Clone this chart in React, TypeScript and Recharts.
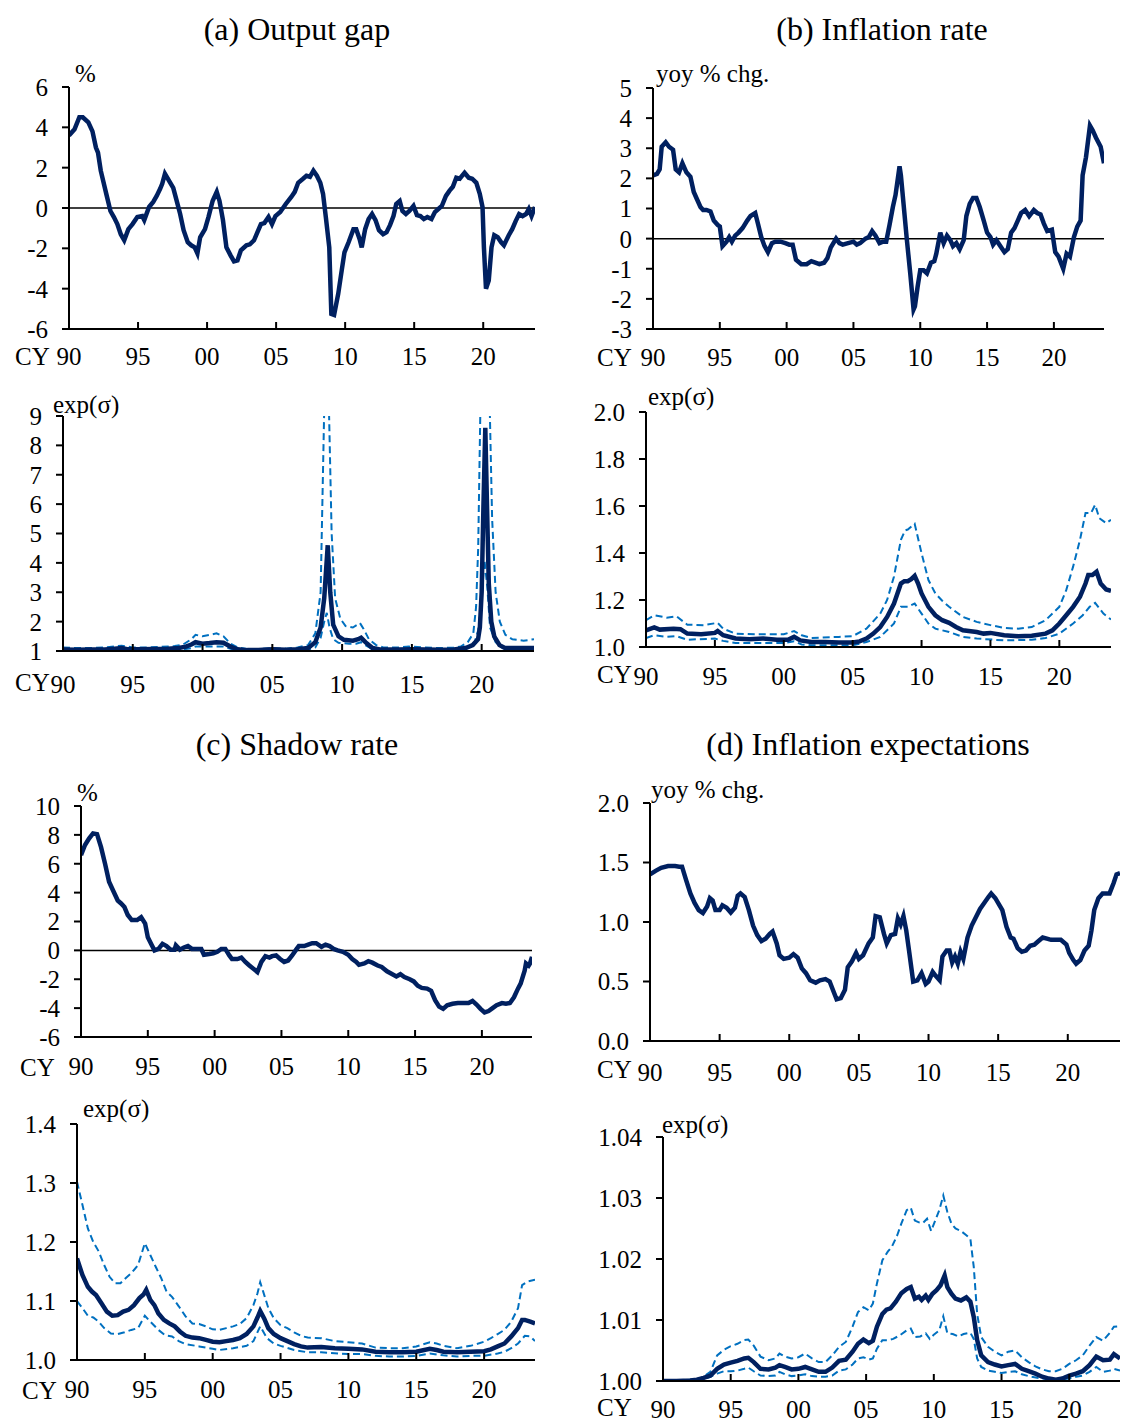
import { LineChart, Line, XAxis, YAxis, ReferenceLine } from 'recharts';

const FONT = '"Liberation Serif", "Times New Roman", serif';
const NAVY = '#002060';
const BLUE = '#0070C0';
const TICK_FS = 25;

const X_DOMAIN = [1990, 2023.75];
const X_TICKS = [1990, 1995, 2000, 2005, 2010, 2015, 2020];

// (a) output gap, %
const outputGap = [
  [1990.0, 3.6], [1990.4, 3.9], [1990.75, 4.5], [1991.0, 4.5], [1991.4, 4.25], [1991.7, 3.8], [1991.95, 3.0],
  [1992.1, 2.75], [1992.3, 1.85], [1992.7, 0.7], [1993.0, -0.15], [1993.25, -0.45], [1993.5, -0.8], [1993.75, -1.3],
  [1994.0, -1.6], [1994.3, -1.05], [1994.6, -0.8], [1994.95, -0.45], [1995.3, -0.4], [1995.45, -0.6], [1995.8, 0.05],
  [1996.1, 0.3], [1996.35, 0.6], [1996.6, 0.95], [1996.75, 1.2], [1996.95, 1.7], [1997.25, 1.35], [1997.55, 1.0],
  [1997.8, 0.35], [1998.05, -0.3], [1998.3, -1.1], [1998.6, -1.7], [1998.85, -1.85], [1999.1, -1.95], [1999.3, -2.25],
  [1999.5, -1.45], [1999.85, -1.05], [2000.1, -0.45], [2000.4, 0.35], [2000.7, 0.8], [2000.9, 0.35], [2001.15, -0.6],
  [2001.4, -1.95], [2001.7, -2.35], [2001.95, -2.65], [2002.2, -2.6], [2002.45, -2.1], [2002.85, -1.85], [2003.1, -1.8],
  [2003.4, -1.6], [2003.65, -1.2], [2003.9, -0.8], [2004.15, -0.75], [2004.45, -0.45], [2004.7, -0.8], [2004.95, -0.4],
  [2005.3, -0.2], [2005.7, 0.2], [2006.1, 0.55], [2006.35, 0.8], [2006.6, 1.25], [2006.95, 1.45], [2007.2, 1.6],
  [2007.45, 1.55], [2007.7, 1.85], [2007.95, 1.6], [2008.2, 1.25], [2008.4, 0.7], [2008.6, -0.45], [2008.85, -1.95],
  [2009.0, -5.25], [2009.2, -5.3], [2009.5, -4.25], [2009.75, -3.1], [2009.95, -2.2], [2010.25, -1.7], [2010.6, -1.05],
  [2010.8, -1.05], [2011.05, -1.55], [2011.2, -1.95], [2011.45, -1.05], [2011.7, -0.55], [2011.95, -0.3], [2012.2, -0.6],
  [2012.45, -1.1], [2012.75, -1.3], [2013.0, -1.2], [2013.25, -0.85], [2013.5, -0.4], [2013.7, 0.2], [2013.95, 0.35],
  [2014.15, -0.15], [2014.4, -0.3], [2014.65, -0.15], [2014.95, 0.1], [2015.2, -0.35], [2015.45, -0.4], [2015.7, -0.55],
  [2015.95, -0.45], [2016.25, -0.55], [2016.5, -0.2], [2016.75, -0.05], [2017.0, 0.1], [2017.3, 0.6], [2017.55, 0.85],
  [2017.8, 1.05], [2018.05, 1.5], [2018.3, 1.45], [2018.65, 1.75], [2018.95, 1.5], [2019.2, 1.45], [2019.5, 1.25],
  [2019.75, 0.7], [2019.95, 0.05], [2020.05, -1.95], [2020.2, -4.0], [2020.4, -3.6], [2020.6, -1.95], [2020.8, -1.35],
  [2021.05, -1.45], [2021.3, -1.7], [2021.5, -1.85], [2021.85, -1.35], [2022.1, -1.05], [2022.35, -0.65], [2022.6, -0.3],
  [2022.85, -0.4], [2023.1, -0.3], [2023.3, -0.05], [2023.5, -0.4], [2023.75, 0.05],
];

// (a) exp(sigma): median, upper, lower
const gapSigMed = [
  [1990, 1.05], [1991, 1.04], [1992, 1.05], [1993, 1.05], [1993.7, 1.08], [1994.2, 1.1], [1994.6, 1.06], [1995.5, 1.06],
  [1996.5, 1.07], [1997.5, 1.08], [1998.3, 1.1], [1998.8, 1.15], [1999.2, 1.22], [1999.5, 1.3], [2000, 1.25], [2000.5, 1.27],
  [2001, 1.3], [2001.5, 1.28], [2002, 1.15], [2002.5, 1.06], [2003.2, 1.03], [2004, 1.03], [2005, 1.06], [2006, 1.04],
  [2006.8, 1.06], [2007.56, 1.1], [2008.08, 1.3], [2008.46, 1.8], [2008.72, 2.8], [2008.97, 4.6], [2009.15, 3.0],
  [2009.36, 1.9], [2009.74, 1.5], [2010.13, 1.38], [2010.77, 1.35], [2011.15, 1.4], [2011.36, 1.45], [2011.67, 1.3],
  [2012.18, 1.1], [2012.7, 1.05], [2014, 1.05], [2015, 1.06], [2016, 1.05], [2017, 1.04], [2018, 1.05], [2018.85, 1.1],
  [2019.36, 1.2], [2019.74, 1.4], [2019.87, 1.8], [2020.0, 3.0], [2020.13, 6.0], [2020.26, 8.6], [2020.38, 6.0],
  [2020.51, 3.3], [2020.69, 2.0], [2020.9, 1.5], [2021.28, 1.2], [2021.67, 1.1], [2023.75, 1.1],
];
const gapSigHi = [
  [1990, 1.12], [1991, 1.1], [1992, 1.1], [1993, 1.12], [1994.2, 1.18], [1995, 1.12], [1996, 1.12], [1997, 1.14],
  [1998, 1.17], [1998.6, 1.22], [1999.2, 1.4], [1999.5, 1.55], [2000, 1.5], [2000.5, 1.55], [2001, 1.6], [2001.5, 1.5],
  [2002, 1.25], [2002.5, 1.12], [2003.2, 1.07], [2004, 1.07], [2005, 1.1], [2006, 1.08], [2006.8, 1.12], [2007.56, 1.2],
  [2008.08, 1.6], [2008.46, 3.0], [2008.75, 10], [2009.0, 10.5], [2009.25, 5], [2009.5, 2.8], [2009.87, 2.1],
  [2010.25, 1.85], [2010.77, 1.8], [2011.28, 1.95], [2011.54, 1.75], [2011.92, 1.4], [2012.44, 1.2], [2012.95, 1.12],
  [2014, 1.12], [2014.8, 1.15], [2016, 1.12], [2017, 1.1], [2018, 1.12], [2018.5, 1.15], [2019, 1.3], [2019.4, 1.6],
  [2019.6, 2.5], [2019.75, 4.5], [2020, 12], [2020.25, 14], [2020.5, 11], [2020.75, 5.5], [2021, 3.0], [2021.3, 2.0],
  [2021.7, 1.55], [2022.2, 1.4], [2023, 1.35], [2023.75, 1.4],
];
const gapSigLo = [
  [1990, 1.02], [1992, 1.02], [1994.2, 1.05], [1995, 1.02], [1997, 1.03], [1998.5, 1.05], [1999.2, 1.1], [1999.5, 1.15],
  [2000.5, 1.15], [2001.5, 1.15], [2002.2, 1.05], [2003, 1.01], [2007, 1.02], [2007.56, 1.05], [2008.08, 1.12],
  [2008.46, 1.45], [2008.72, 2.0], [2008.9, 2.3], [2009.1, 1.8], [2009.36, 1.4], [2009.74, 1.28], [2010.5, 1.25],
  [2011, 1.25], [2011.36, 1.3], [2011.67, 1.2], [2012.2, 1.05], [2013, 1.02], [2018.5, 1.03], [2019, 1.1], [2019.5, 1.3],
  [2019.75, 1.7], [2020, 2.8], [2020.2, 4.1], [2020.4, 3.2], [2020.6, 1.8], [2021, 1.3], [2021.5, 1.1], [2022, 1.05],
  [2023.75, 1.05],
];

// (b) inflation rate, yoy % chg.
const inflation = [
  [1990.0, 2.1], [1990.3, 2.15], [1990.5, 2.3], [1990.65, 3.05], [1990.95, 3.2], [1991.2, 3.05], [1991.5, 2.95],
  [1991.7, 2.3], [1991.95, 2.2], [1992.2, 2.5], [1992.5, 2.2], [1992.8, 2.05], [1993.05, 1.55], [1993.3, 1.3],
  [1993.55, 1.05], [1993.75, 0.95], [1994.0, 0.95], [1994.3, 0.9], [1994.55, 0.6], [1994.85, 0.45], [1995.0, 0.4],
  [1995.2, -0.25], [1995.5, -0.1], [1995.7, 0.05], [1995.9, -0.1], [1996.15, 0.1], [1996.4, 0.2], [1996.7, 0.35],
  [1997.05, 0.6], [1997.3, 0.75], [1997.65, 0.85], [1997.85, 0.5], [1998.1, 0.05], [1998.35, -0.25], [1998.6, -0.45],
  [1998.9, -0.15], [1999.15, -0.1], [1999.55, -0.1], [1999.9, -0.15], [2000.2, -0.2], [2000.45, -0.2], [2000.7, -0.7],
  [2001.1, -0.85], [2001.5, -0.85], [2001.85, -0.75], [2002.15, -0.8], [2002.45, -0.85], [2002.8, -0.8], [2003.05, -0.65],
  [2003.3, -0.3], [2003.7, 0.0], [2003.95, -0.15], [2004.2, -0.2], [2004.6, -0.15], [2005.0, -0.1], [2005.25, -0.2],
  [2005.5, -0.15], [2005.9, 0.0], [2006.15, 0.05], [2006.4, 0.25], [2006.65, 0.1], [2006.95, -0.15], [2007.2, -0.1],
  [2007.45, -0.1], [2007.7, 0.45], [2007.95, 1.05], [2008.15, 1.45], [2008.45, 2.4], [2008.55, 2.1], [2008.75, 1.15],
  [2009.0, -0.05], [2009.25, -1.15], [2009.5, -2.35], [2009.6, -2.25], [2009.8, -1.6], [2010.0, -1.05], [2010.25, -1.05],
  [2010.5, -1.15], [2010.8, -0.8], [2011.05, -0.75], [2011.2, -0.5], [2011.5, 0.2], [2011.75, -0.15], [2012.0, 0.1],
  [2012.25, -0.05], [2012.45, -0.25], [2012.7, -0.15], [2012.95, -0.35], [2013.25, -0.05], [2013.45, 0.75], [2013.7, 1.15],
  [2013.95, 1.35], [2014.2, 1.35], [2014.45, 1.05], [2014.75, 0.6], [2015.0, 0.2], [2015.25, 0.05], [2015.45, -0.2],
  [2015.7, -0.05], [2016.0, -0.25], [2016.3, -0.45], [2016.55, -0.35], [2016.8, 0.2], [2017.05, 0.35], [2017.3, 0.6],
  [2017.55, 0.85], [2017.85, 0.95], [2018.15, 0.75], [2018.5, 0.95], [2018.75, 0.85], [2019.0, 0.8], [2019.25, 0.5],
  [2019.5, 0.25], [2019.85, 0.3], [2020.1, -0.45], [2020.35, -0.6], [2020.7, -1.0], [2020.95, -0.5], [2021.2, -0.6],
  [2021.5, 0.05], [2021.75, 0.4], [2022.0, 0.6], [2022.15, 2.1], [2022.4, 2.7], [2022.7, 3.75], [2022.9, 3.6],
  [2023.15, 3.35], [2023.5, 3.05], [2023.75, 2.5],
];

// (b) exp(sigma)
const inflSigMed = [
  [1990, 1.071], [1990.6, 1.083], [1991, 1.074], [1992, 1.078], [1992.5, 1.076], [1993, 1.057], [1994, 1.054], [1995, 1.06],
  [1995.2, 1.068], [1995.6, 1.05], [1996.5, 1.036], [1997.5, 1.033], [1998.5, 1.036], [1999.5, 1.031], [2000.3, 1.031],
  [2000.75, 1.043], [2001.2, 1.028], [2002, 1.021], [2003, 1.021], [2004, 1.019], [2005, 1.019], [2005.5, 1.024],
  [2006, 1.036], [2006.5, 1.057], [2007, 1.085], [2007.5, 1.128], [2008, 1.185], [2008.5, 1.27], [2008.75, 1.28],
  [2009, 1.28], [2009.25, 1.289], [2009.5, 1.303], [2009.75, 1.27], [2010, 1.228], [2010.5, 1.171], [2011, 1.135],
  [2011.5, 1.114], [2012, 1.103], [2012.5, 1.085], [2013, 1.071], [2014, 1.064], [2014.5, 1.057], [2015, 1.06],
  [2016, 1.05], [2017, 1.046], [2018, 1.048], [2019, 1.057], [2019.5, 1.071], [2020, 1.1], [2020.5, 1.135], [2021, 1.171],
  [2021.5, 1.214], [2021.9, 1.27], [2022.1, 1.306], [2022.4, 1.306], [2022.7, 1.32], [2023, 1.27], [2023.4, 1.245],
  [2023.75, 1.239],
];
const inflSigHi = [
  [1990, 1.114], [1990.6, 1.135], [1991.5, 1.125], [1992.2, 1.131], [1993, 1.095], [1994.2, 1.093], [1995.2, 1.103],
  [1995.6, 1.078], [1996.5, 1.057], [1998, 1.054], [2000, 1.054], [2000.75, 1.068], [2001.3, 1.05], [2002, 1.038],
  [2004, 1.043], [2005, 1.046], [2006, 1.078], [2007, 1.142], [2007.5, 1.2], [2008, 1.3], [2008.5, 1.456], [2008.8, 1.496],
  [2009, 1.5], [2009.5, 1.524], [2010, 1.399], [2010.5, 1.285], [2011, 1.228], [2011.5, 1.197], [2012, 1.171],
  [2013, 1.128], [2014, 1.107], [2015, 1.093], [2016, 1.081], [2017, 1.078], [2018, 1.085], [2019, 1.114], [2020, 1.171],
  [2020.5, 1.242], [2021, 1.342], [2021.5, 1.456], [2021.9, 1.57], [2022.3, 1.57], [2022.6, 1.605], [2022.9, 1.548],
  [2023.4, 1.527], [2023.75, 1.541],
];
const inflSigLo = [
  [1990, 1.038], [1990.6, 1.05], [1991.5, 1.043], [1992.2, 1.046], [1993, 1.031], [1995, 1.036], [1995.6, 1.026],
  [1996.5, 1.017], [2000, 1.017], [2000.75, 1.024], [2001.3, 1.011], [2002, 1.007], [2005, 1.007], [2006, 1.021],
  [2007, 1.043], [2008, 1.1], [2008.5, 1.171], [2009, 1.171], [2009.5, 1.185], [2010, 1.142], [2010.5, 1.1], [2011, 1.078],
  [2012, 1.064], [2013, 1.043], [2014, 1.036], [2016, 1.028], [2018, 1.031], [2019, 1.038], [2020, 1.057], [2021, 1.1],
  [2021.7, 1.135], [2022.2, 1.171], [2022.6, 1.188], [2023.2, 1.142], [2023.75, 1.117],
];

// (c) shadow rate, %
const shadowRate = [
  [1990.0, 6.6], [1990.3, 7.3], [1990.6, 7.75], [1990.9, 8.1], [1991.2, 8.05], [1991.5, 7.15], [1991.8, 6.0], [1992.1, 4.75],
  [1992.4, 4.15], [1992.75, 3.45], [1993.0, 3.25], [1993.25, 3.0], [1993.5, 2.45], [1993.8, 2.1], [1994.2, 2.1],
  [1994.5, 2.3], [1994.8, 1.85], [1995.0, 0.9], [1995.3, 0.35], [1995.5, 0.0], [1995.8, 0.1], [1996.1, 0.45], [1996.4, 0.3],
  [1996.7, 0.05], [1997.0, 0.05], [1997.1, 0.35], [1997.4, 0.05], [1997.7, 0.2], [1998.0, 0.3], [1998.3, 0.1],
  [1998.7, 0.1], [1999.0, 0.1], [1999.2, -0.3], [1999.6, -0.25], [1999.9, -0.2], [2000.2, -0.1], [2000.5, 0.1],
  [2000.8, 0.1], [2001.1, -0.35], [2001.3, -0.6], [2001.7, -0.6], [2002.0, -0.5], [2002.3, -0.8], [2002.6, -1.05],
  [2003.0, -1.35], [2003.2, -1.5], [2003.5, -0.8], [2003.8, -0.4], [2004.1, -0.5], [2004.3, -0.4], [2004.6, -0.35],
  [2004.9, -0.6], [2005.2, -0.8], [2005.5, -0.7], [2005.8, -0.35], [2006.1, 0.05], [2006.3, 0.3], [2006.7, 0.3],
  [2007.0, 0.4], [2007.3, 0.5], [2007.6, 0.5], [2008.0, 0.25], [2008.3, 0.4], [2008.6, 0.3], [2008.9, 0.1], [2009.2, 0.0],
  [2009.6, -0.1], [2010.0, -0.3], [2010.3, -0.6], [2010.6, -0.8], [2010.8, -1.0], [2011.2, -0.9], [2011.5, -0.75],
  [2011.8, -0.85], [2012.2, -1.05], [2012.5, -1.15], [2012.9, -1.45], [2013.2, -1.6], [2013.6, -1.8], [2013.9, -1.65],
  [2014.2, -1.85], [2014.6, -2.0], [2014.9, -2.15], [2015.2, -2.45], [2015.5, -2.6], [2015.9, -2.65], [2016.2, -2.8],
  [2016.5, -3.45], [2016.8, -3.9], [2017.1, -4.05], [2017.4, -3.8], [2017.8, -3.7], [2018.2, -3.65], [2018.6, -3.65],
  [2019.0, -3.65], [2019.3, -3.5], [2019.6, -3.75], [2019.9, -4.05], [2020.2, -4.3], [2020.5, -4.2], [2020.8, -4.0],
  [2021.1, -3.8], [2021.5, -3.65], [2021.8, -3.7], [2022.1, -3.65], [2022.4, -3.25], [2022.7, -2.65], [2022.9, -2.3],
  [2023.2, -1.4], [2023.3, -0.9], [2023.5, -1.05], [2023.6, -0.9], [2023.75, -0.45],
];

// (c) exp(sigma)
const shadowSigMed = [
  [1990.0, 1.172], [1990.4, 1.144], [1990.8, 1.124], [1991.1, 1.116], [1991.4, 1.11], [1991.8, 1.096], [1992.2, 1.082],
  [1992.6, 1.075], [1993.0, 1.076], [1993.4, 1.082], [1993.8, 1.085], [1994.2, 1.093], [1994.6, 1.105], [1994.9, 1.111],
  [1995.1, 1.119], [1995.4, 1.102], [1995.7, 1.093], [1996.0, 1.079], [1996.4, 1.068], [1996.8, 1.062], [1997.2, 1.057],
  [1997.6, 1.048], [1998.0, 1.041], [1998.5, 1.038], [1999.0, 1.037], [1999.5, 1.034], [2000.0, 1.031], [2000.5, 1.03],
  [2001.0, 1.032], [2001.5, 1.034], [2002.0, 1.037], [2002.5, 1.044], [2003.0, 1.057], [2003.3, 1.072], [2003.5, 1.083],
  [2003.8, 1.07], [2004.1, 1.054], [2004.5, 1.044], [2005.0, 1.037], [2005.5, 1.032], [2006.0, 1.027], [2006.5, 1.023],
  [2007.0, 1.021], [2008.0, 1.022], [2009.0, 1.02], [2010.0, 1.019], [2011.0, 1.018], [2012.0, 1.014], [2013.0, 1.013],
  [2014.0, 1.013], [2015.0, 1.014], [2016.0, 1.019], [2016.5, 1.017], [2017.0, 1.014], [2018.0, 1.013], [2019.0, 1.014],
  [2020.0, 1.015], [2020.5, 1.018], [2021.0, 1.023], [2021.5, 1.028], [2022.0, 1.04], [2022.5, 1.054], [2022.8, 1.068],
  [2023.0, 1.068], [2023.4, 1.065], [2023.75, 1.062],
];
const shadowSigHi = [
  [1990.0, 1.302], [1990.4, 1.263], [1990.8, 1.223], [1991.2, 1.2], [1991.6, 1.184], [1992.0, 1.161], [1992.4, 1.141],
  [1992.8, 1.13], [1993.2, 1.13], [1993.6, 1.139], [1994.0, 1.147], [1994.5, 1.161], [1995.0, 1.198], [1995.4, 1.178],
  [1995.8, 1.158], [1996.2, 1.139], [1996.6, 1.116], [1997.0, 1.107], [1997.5, 1.091], [1998.0, 1.074], [1998.5, 1.062],
  [1999.0, 1.061], [1999.5, 1.057], [2000.0, 1.052], [2000.5, 1.051], [2001.0, 1.054], [2001.5, 1.057], [2002.0, 1.061],
  [2002.5, 1.071], [2003.0, 1.093], [2003.3, 1.113], [2003.5, 1.132], [2003.8, 1.11], [2004.1, 1.088], [2004.5, 1.071],
  [2005.0, 1.059], [2005.5, 1.054], [2006.0, 1.047], [2006.5, 1.041], [2007.0, 1.038], [2008.0, 1.037], [2009.0, 1.032],
  [2010.0, 1.03], [2011.0, 1.028], [2012.0, 1.021], [2013.0, 1.02], [2014.0, 1.02], [2015.0, 1.023], [2016.0, 1.03],
  [2016.5, 1.028], [2017.0, 1.024], [2018.0, 1.02], [2019.0, 1.024], [2020.0, 1.031], [2020.5, 1.037], [2021.0, 1.044],
  [2021.5, 1.051], [2022.0, 1.065], [2022.5, 1.088], [2022.8, 1.127], [2023.2, 1.133], [2023.75, 1.136],
];
const shadowSigLo = [
  [1990.0, 1.1], [1990.4, 1.088], [1990.8, 1.075], [1991.2, 1.072], [1991.6, 1.065], [1992.0, 1.054], [1992.5, 1.045],
  [1993.0, 1.044], [1993.5, 1.047], [1994.0, 1.051], [1994.5, 1.054], [1995.0, 1.075], [1995.4, 1.065], [1996.0, 1.051],
  [1996.5, 1.042], [1997.0, 1.04], [1997.5, 1.032], [1998.0, 1.027], [1999.0, 1.023], [2000.0, 1.019], [2000.5, 1.017],
  [2001.5, 1.02], [2002.5, 1.024], [2003.0, 1.032], [2003.5, 1.057], [2004.0, 1.037], [2004.5, 1.028], [2005.0, 1.024],
  [2006.0, 1.017], [2007.0, 1.013], [2008.0, 1.013], [2010.0, 1.01], [2011.0, 1.01], [2012.0, 1.007], [2013.0, 1.006],
  [2014.0, 1.006], [2015.0, 1.007], [2016.0, 1.011], [2017.0, 1.008], [2018.0, 1.006], [2019.0, 1.007], [2020.0, 1.007],
  [2021.0, 1.011], [2021.5, 1.014], [2022.0, 1.02], [2022.5, 1.028], [2023.0, 1.041], [2023.4, 1.04], [2023.75, 1.032],
];

// (d) inflation expectations, yoy % chg.
const inflExp = [
  [1990.0, 1.4], [1990.4, 1.43], [1990.8, 1.455], [1991.3, 1.47], [1991.8, 1.47], [1992.1, 1.465], [1992.3, 1.465],
  [1992.6, 1.35], [1992.9, 1.24], [1993.2, 1.16], [1993.5, 1.1], [1993.8, 1.075], [1994.1, 1.13], [1994.3, 1.2],
  [1994.5, 1.18], [1994.7, 1.1], [1995.0, 1.1], [1995.2, 1.14], [1995.5, 1.12], [1995.8, 1.08], [1996.1, 1.12],
  [1996.3, 1.22], [1996.5, 1.24], [1996.8, 1.21], [1997.1, 1.1], [1997.4, 0.97], [1997.7, 0.89], [1998.0, 0.84],
  [1998.3, 0.86], [1998.6, 0.9], [1998.8, 0.92], [1999.1, 0.82], [1999.3, 0.72], [1999.6, 0.69], [2000.0, 0.7],
  [2000.3, 0.73], [2000.6, 0.7], [2000.9, 0.61], [2001.2, 0.57], [2001.5, 0.51], [2001.9, 0.49], [2002.2, 0.51],
  [2002.6, 0.52], [2002.9, 0.5], [2003.2, 0.41], [2003.4, 0.35], [2003.7, 0.36], [2004.0, 0.43], [2004.2, 0.62],
  [2004.5, 0.67], [2004.8, 0.74], [2005.0, 0.69], [2005.3, 0.72], [2005.7, 0.82], [2006.0, 0.87], [2006.2, 1.05],
  [2006.5, 1.04], [2006.8, 0.9], [2007.0, 0.82], [2007.3, 0.89], [2007.6, 0.9], [2007.8, 1.03], [2008.0, 0.98],
  [2008.2, 1.05], [2008.4, 0.93], [2008.6, 0.76], [2008.9, 0.5], [2009.2, 0.51], [2009.5, 0.57], [2009.8, 0.48],
  [2010.0, 0.5], [2010.3, 0.58], [2010.5, 0.55], [2010.8, 0.51], [2011.0, 0.71], [2011.3, 0.76], [2011.5, 0.76],
  [2011.7, 0.66], [2011.9, 0.71], [2012.1, 0.65], [2012.3, 0.75], [2012.5, 0.69], [2012.8, 0.87], [2013.1, 0.97],
  [2013.4, 1.04], [2013.7, 1.11], [2014.0, 1.16], [2014.3, 1.21], [2014.5, 1.24], [2014.8, 1.2], [2015.1, 1.14],
  [2015.3, 1.1], [2015.6, 0.96], [2015.9, 0.87], [2016.1, 0.86], [2016.4, 0.78], [2016.7, 0.75], [2017.0, 0.76],
  [2017.3, 0.8], [2017.6, 0.81], [2017.9, 0.84], [2018.2, 0.87], [2018.5, 0.86], [2018.8, 0.85], [2019.2, 0.85],
  [2019.5, 0.85], [2019.9, 0.81], [2020.1, 0.74], [2020.4, 0.68], [2020.6, 0.65], [2020.9, 0.68], [2021.2, 0.76],
  [2021.5, 0.8], [2021.7, 0.93], [2021.9, 1.1], [2022.2, 1.2], [2022.5, 1.24], [2022.8, 1.24], [2023.0, 1.24],
  [2023.3, 1.33], [2023.5, 1.4], [2023.75, 1.41],
];

// (d) exp(sigma)
const expSigMed = [
  [1990, 1.0], [1991, 1.0], [1992, 1.0001], [1992.5, 1.0002], [1993, 1.0005], [1993.5, 1.0009], [1994, 1.002],
  [1994.5, 1.0027], [1995, 1.003], [1995.5, 1.0033], [1996, 1.0037], [1996.3, 1.0038], [1996.7, 1.0031], [1997.2, 1.002],
  [1997.8, 1.0019], [1998.3, 1.0022], [1998.6, 1.0026], [1999, 1.0023], [1999.5, 1.0019], [2000, 1.002], [2000.5, 1.0023],
  [2001, 1.0019], [2001.5, 1.0015], [2002, 1.0015], [2002.5, 1.0022], [2003, 1.0033], [2003.5, 1.0035], [2004, 1.0048],
  [2004.4, 1.0061], [2004.8, 1.0068], [2005.2, 1.0062], [2005.5, 1.0066], [2005.8, 1.0089], [2006.2, 1.011],
  [2006.5, 1.0117], [2006.8, 1.0119], [2007.2, 1.013], [2007.6, 1.0144], [2008, 1.0151], [2008.3, 1.0154],
  [2008.6, 1.0135], [2008.9, 1.0138], [2009.1, 1.0133], [2009.4, 1.014], [2009.6, 1.0133], [2009.9, 1.0143],
  [2010.2, 1.0149], [2010.5, 1.0157], [2010.8, 1.0173], [2011, 1.0154], [2011.3, 1.0143], [2011.6, 1.0135], [2012, 1.0132],
  [2012.4, 1.0137], [2012.7, 1.013], [2012.95, 1.0105], [2013.2, 1.0067], [2013.5, 1.0042], [2014, 1.0031],
  [2014.5, 1.0027], [2015, 1.0024], [2015.5, 1.0026], [2016, 1.0028], [2016.5, 1.002], [2017, 1.0016], [2017.5, 1.0012],
  [2018, 1.0007], [2018.5, 1.0004], [2019, 1.0002], [2019.5, 1.0004], [2020, 1.0009], [2020.5, 1.0012], [2021, 1.0016],
  [2021.5, 1.0026], [2022, 1.004], [2022.5, 1.0034], [2023, 1.0035], [2023.3, 1.0044], [2023.75, 1.0037],
];
const expSigHi = [
  [1990, 1.0], [1992.5, 1.0002], [1993, 1.0007], [1993.5, 1.0015], [1994, 1.0042], [1994.5, 1.0051], [1995, 1.0057],
  [1995.5, 1.0061], [1996, 1.0067], [1996.3, 1.0068], [1996.7, 1.0058], [1997.2, 1.004], [1997.8, 1.0034],
  [1998.3, 1.0037], [1998.6, 1.0045], [1999, 1.004], [1999.5, 1.0037], [2000, 1.0039], [2000.5, 1.0045], [2001, 1.0037],
  [2001.5, 1.0031], [2002, 1.0031], [2002.5, 1.0042], [2003, 1.0056], [2003.5, 1.0064], [2004, 1.0089], [2004.4, 1.0113],
  [2004.8, 1.0121], [2005.2, 1.0116], [2005.5, 1.0127], [2005.8, 1.016], [2006.2, 1.0198], [2006.6, 1.0212],
  [2006.9, 1.022], [2007.3, 1.0239], [2007.6, 1.0258], [2008, 1.028], [2008.3, 1.0284], [2008.6, 1.0263], [2008.9, 1.026],
  [2009.2, 1.0259], [2009.5, 1.0266], [2009.8, 1.0246], [2010.1, 1.0263], [2010.4, 1.028], [2010.7, 1.0304],
  [2011, 1.0277], [2011.3, 1.0258], [2011.6, 1.025], [2012, 1.0246], [2012.4, 1.0239], [2012.7, 1.0233],
  [2012.95, 1.0187], [2013.2, 1.011], [2013.5, 1.0072], [2014, 1.0056], [2014.5, 1.0048], [2015, 1.0042],
  [2015.5, 1.0048], [2016, 1.005], [2016.5, 1.0039], [2017, 1.0031], [2017.5, 1.0024], [2018, 1.0019], [2018.5, 1.0016],
  [2019, 1.0016], [2019.5, 1.002], [2020, 1.0028], [2020.5, 1.0034], [2021, 1.0042], [2021.5, 1.0058], [2022, 1.0072],
  [2022.5, 1.0066], [2023, 1.0079], [2023.3, 1.0089], [2023.75, 1.009],
];
const expSigLo = [
  [1990, 1.0], [1993, 1.0003], [1993.5, 1.0007], [1994, 1.0012], [1994.5, 1.0016], [1995, 1.0016], [1995.5, 1.0017],
  [1996, 1.002], [1996.3, 1.0022], [1996.7, 1.0016], [1997.2, 1.0009], [1997.8, 1.0008], [1998.3, 1.0009],
  [1998.6, 1.0015], [1999, 1.0011], [1999.5, 1.0008], [2000, 1.0009], [2000.5, 1.0011], [2001, 1.0008], [2001.5, 1.0007],
  [2002, 1.0007], [2002.5, 1.0009], [2003, 1.0017], [2003.5, 1.0019], [2004, 1.0027], [2004.4, 1.0037], [2004.8, 1.0039],
  [2005.2, 1.0035], [2005.5, 1.0037], [2005.8, 1.0053], [2006.2, 1.0067], [2006.6, 1.0067], [2007, 1.0069],
  [2007.5, 1.0075], [2008, 1.0083], [2008.3, 1.0086], [2008.6, 1.0072], [2009, 1.0073], [2009.4, 1.0078],
  [2009.7, 1.0069], [2010, 1.0076], [2010.4, 1.0083], [2010.7, 1.0106], [2011, 1.0078], [2011.4, 1.0077],
  [2011.8, 1.0073], [2012.2, 1.0077], [2012.7, 1.0079], [2012.95, 1.0069], [2013.2, 1.0037], [2013.5, 1.0023],
  [2014, 1.0017], [2014.5, 1.0015], [2015, 1.0013], [2015.5, 1.0015], [2016, 1.0016], [2016.5, 1.0011], [2017, 1.0008],
  [2018, 1.0004], [2019, 1.0002], [2020, 1.0004], [2020.5, 1.0007], [2021, 1.0009], [2021.5, 1.0015], [2022, 1.0023],
  [2022.5, 1.0015], [2023, 1.0017], [2023.3, 1.002], [2023.75, 1.0017],
];

const yy = (v: number) => String(v % 100).padStart(2, '0');
const fixed = (d: number) => (v: number) => v.toFixed(d);

// x ticks: marks point into the plot, labels sit below the axis
const xTick = (off: number) => (props: any) => {
  const { x, y, payload } = props;
  return (
    <g>
      <line x1={x} x2={x} y1={y} y2={y - 7} stroke="#000" strokeWidth={2} />
      <text x={x} y={y + off + TICK_FS * 0.33} textAnchor="middle" fontFamily={FONT} fontSize={TICK_FS} fill="#000">
        {yy(payload.value)}
      </text>
    </g>
  );
};

function Text({ left, cy, size = 25, children }: any) {
  return (
    <div style={{ position: 'absolute', left, top: cy - size / 2, fontFamily: FONT, fontSize: size, lineHeight: `${size}px`, whiteSpace: 'nowrap', color: '#000' }}>
      {children}
    </div>
  );
}

function Title({ cx, cy, children }: any) {
  return (
    <div style={{ position: 'absolute', left: cx - 300, width: 600, top: cy - 16, textAlign: 'center', fontFamily: FONT, fontSize: 32, lineHeight: '32px' }}>
      {children}
    </div>
  );
}

function Panel({ box, domain, ticks, fmt, lines, zero, unit, unitAt, cyAt, off }: any) {
  const [l, t, r, b] = box;
  const w = r - l;
  const h = b - t;
  const padL = 90, padT = 22, padR = 4, padB = 60;
  const tickStyle = { fontFamily: FONT, fontSize: TICK_FS, fill: '#000' };
  const frame = { stroke: '#000', strokeWidth: 2 };
  return (
    <>
      <div style={{ position: 'absolute', left: l - padL, top: t - padT }}>
        <LineChart width={w + padL + padR} height={h + padT + padB} margin={{ top: padT, right: padR, bottom: 0, left: 0 }}>
          <XAxis dataKey="x" type="number" domain={X_DOMAIN} ticks={X_TICKS} interval={0} allowDataOverflow
            height={padB} tick={xTick(off)} tickSize={0} tickMargin={0} axisLine={frame} tickLine={false} />
          <YAxis type="number" domain={domain} ticks={ticks} interval={0} allowDataOverflow tickFormatter={fmt}
            width={padL} tick={tickStyle} tickSize={7} tickMargin={14} axisLine={frame} tickLine={frame} />
          <XAxis xAxisId="top" orientation="top" type="number" domain={X_DOMAIN} allowDataOverflow height={0}
            tick={false} tickLine={false} axisLine={frame} />
          <YAxis yAxisId="right" orientation="right" type="number" domain={domain} allowDataOverflow width={0}
            tick={false} tickLine={false} axisLine={frame} />
          {zero && <ReferenceLine y={0} stroke="#000" strokeWidth={1.5} />}
          {lines.map((s: any, i: number) => (
            <Line key={i} data={s.pts.map(([x, y]: number[]) => ({ x, y }))} dataKey="y" type="linear"
              stroke={s.band ? BLUE : NAVY} strokeWidth={s.band ? 2 : 4.5}
              strokeDasharray={s.band ? '7 4' : undefined} dot={false} activeDot={false} isAnimationActive={false} />
          ))}
        </LineChart>
      </div>
      <Text left={unitAt[0]} cy={unitAt[1]}>{unit}</Text>
      <Text left={cyAt[0]} cy={cyAt[1]} size={TICK_FS}>CY</Text>
    </>
  );
}

const band = (pts: number[][]) => ({ pts, band: true });
const main = (pts: number[][]) => ({ pts });

export default function App() {
  return (
    <div style={{ position: 'absolute', left: 0, top: 0, width: 1122, height: 1422, background: '#fff', overflow: 'hidden' }}>
      <Title cx={297} cy={29}>(a) Output gap</Title>
      <Title cx={882} cy={29}>(b) Inflation rate</Title>
      <Title cx={297} cy={744}>(c) Shadow rate</Title>
      <Title cx={868} cy={744}>(d) Inflation expectations</Title>

      <Panel box={[69, 87, 535, 329]} domain={[-6, 6]} ticks={[-6, -4, -2, 0, 2, 4, 6]} fmt={fixed(0)} zero
        lines={[main(outputGap)]} unit="%" unitAt={[75, 73]} cyAt={[15, 356]} off={28} />
      <Panel box={[653, 88, 1104, 329]} domain={[-3, 5]} ticks={[-3, -2, -1, 0, 1, 2, 3, 4, 5]} fmt={fixed(0)} zero
        lines={[main(inflation)]} unit="yoy % chg." unitAt={[656, 73]} cyAt={[597, 357]} off={29} />
      <Panel box={[63, 416, 534, 651]} domain={[1, 9]} ticks={[1, 2, 3, 4, 5, 6, 7, 8, 9]} fmt={fixed(0)}
        lines={[band(gapSigLo), band(gapSigHi), main(gapSigMed)]} unit="exp(σ)" unitAt={[53, 404]} cyAt={[15, 682]} off={34} />
      <Panel box={[646, 412, 1111, 647]} domain={[1, 2]} ticks={[1, 1.2, 1.4, 1.6, 1.8, 2]} fmt={fixed(1)}
        lines={[band(inflSigLo), band(inflSigHi), main(inflSigMed)]} unit="exp(σ)" unitAt={[648, 396]} cyAt={[597, 674]} off={30} />
      <Panel box={[81, 806, 532, 1037]} domain={[-6, 10]} ticks={[-6, -4, -2, 0, 2, 4, 6, 8, 10]} fmt={fixed(0)} zero
        lines={[main(shadowRate)]} unit="%" unitAt={[77, 792]} cyAt={[20, 1067]} off={30} />
      <Panel box={[650, 803, 1120, 1041]} domain={[0, 2]} ticks={[0, 0.5, 1, 1.5, 2]} fmt={fixed(1)}
        lines={[main(inflExp)]} unit="yoy % chg." unitAt={[651, 789]} cyAt={[597, 1069]} off={32} />
      <Panel box={[77, 1124, 535, 1360]} domain={[1, 1.4]} ticks={[1, 1.1, 1.2, 1.3, 1.4]} fmt={fixed(1)}
        lines={[band(shadowSigLo), band(shadowSigHi), main(shadowSigMed)]} unit="exp(σ)" unitAt={[83, 1108]} cyAt={[22, 1390]} off={30} />
      <Panel box={[663, 1137, 1120, 1381]} domain={[1, 1.04]} ticks={[1, 1.01, 1.02, 1.03, 1.04]} fmt={fixed(2)}
        lines={[band(expSigLo), band(expSigHi), main(expSigMed)]} unit="exp(σ)" unitAt={[662, 1124]} cyAt={[597, 1407]} off={29} />
    </div>
  );
}
